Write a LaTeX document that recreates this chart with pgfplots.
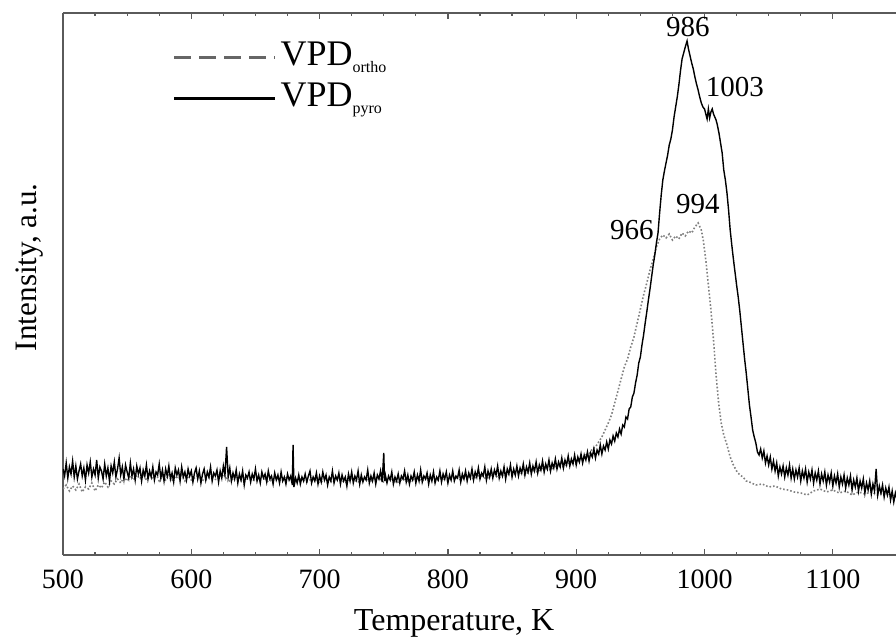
\documentclass[border=0pt]{standalone}
\usepackage{fontspec}
\setmainfont{Liberation Serif}
\usepackage{pgfplots}
\pgfplotsset{compat=1.18}
\usepackage{pgfplotstable}

\pgfplotstableread{
x y
500 66
502.5 70
505 64
507.5 69
510 65
512.5 71
515 63
517.5 68
520 66
522.5 72
525 64
527.5 70
530 67
532.5 73
535 68
537.5 74
540 71
542.5 76
545 72
547.5 78
550 74
552.5 79
555 75
557.5 80
560 76
562.5 81
565 75
567.5 80
570 76
572.5 81
575 74
577.5 79
580 75
582.5 80
585 74
587.5 79
590 76
592.5 80
595 74
597.5 79
600 75
605 79
610 74
615 78
620 75
625 80
630 74
635 78
640 73
645 77
650 74
655 79
660 73
665 77
670 74
675 78
680 72
685 76
690 73
695 77
700 72
705 76
710 73
715 77
720 72
725 76
730 73
735 77
740 74
745 78
750 73
755 77
760 72
765 76
770 73
775 77
780 74
785 78
790 73
795 77
800 74
805 78
810 75
815 79
820 76
825 80
830 76
835 81
840 77
845 82
850 79
855 83
860 80
865 85
870 83
875 87
880 85
885 89
890 88
895 92
900 91
902.5 95
905 96
907.5 100
910 101
912.5 106
915 108
917.5 113
920 118
922.5 125
925 132
927.5 140
930 152
932.5 164
935 176
937.5 188
940 196
942.5 208
945 218
947.5 232
950 246
952.5 260
955 272
957.5 285
960 296
962.5 308
965 316
967.5 320
970 317
972.5 321
975 315
977.5 319
980 316
982.5 322
985 319
987.5 324
990 322
992.5 328
995 332
997.5 325
999 315
1001 295
1003 270
1005 245
1007 215
1009 180
1011 152
1013 132
1015 120
1017.5 110
1020 98
1022.5 90
1025 84
1027.5 80
1030 78
1032.5 74
1035 73
1040 70
1045 71
1050 68
1055 69
1060 66
1065 65
1070 63
1075 62
1080 60
1085 64
1090 66
1095 63
1100 65
1105 62
1110 64
1115 60
1120 63
1125 61
1130 63
1135 60
1140 62
1145 59
1150 60
}\ortho

\definecolor{axgray}{HTML}{5A5A5A}
\definecolor{orthogray}{HTML}{808080}
\definecolor{leggray}{HTML}{666666}

\newcommand{\sub}[1]{\raisebox{-0.4ex}{\fontsize{8}{8}\selectfont #1}}

\begin{document}
\begin{tikzpicture}
\begin{axis}[
  at={(0,0)}, anchor=south west,
  scale only axis,
  width=417pt, height=271pt,
  xmin=500, xmax=1150,
  ymin=0, ymax=542,
  axis x line*=box,
  axis y line*=left,
  axis line style={axgray, line width=0.9pt},
  xtick={500,600,...,1100},
  minor x tick num=3,
  ytick=\empty,
  tick align=inside,
  major tick length=3pt,
  minor tick length=1.5pt,
  tick style={axgray, line width=0.6pt},
  /pgf/number format/assume math mode=true,
  /pgf/number format/1000 sep={},
  xticklabel style={font=\fontsize{14}{14}\selectfont, yshift=-4pt},
  xlabel={Temperature, K},
  ylabel={Intensity, a.u.},
  xlabel style={font=\fontsize{16}{16}\selectfont, at={(axis description cs:0.469,-0.1384)}, anchor=base},
  ylabel style={font=\fontsize{15.6}{15.6}\selectfont, at={(axis description cs:-0.0312,0.531)}, anchor=base},
  legend style={at={(axis description cs:0.131,0.948)}, anchor=north west, draw=none, fill=none,
    font=\fontsize{18}{18}\selectfont, row sep=4.5pt, inner sep=0pt,
    nodes={inner sep=0pt, text height=12pt, text depth=4pt}},
  legend cell align=left,
  legend image code/.code={\draw[#1] (0pt,0pt) -- (50.5pt,0pt); \path (52.5pt,0pt);},
]
\addplot[orthogray, densely dotted, line width=0.8pt, forget plot] table[x=x,y=y] {\ortho};
\addplot[black, line width=0.7pt, forget plot] coordinates {
(500,86)(501.25,79)(502.5,92)(503.75,77)(505,88)(506.25,81)(507.5,94)(508.75,78)
(510,89)(511.25,76)(512.5,84)(513.75,91)(515,79)(516.25,87)(517.5,75)(518.75,90)
(520,82)(521.25,93)(522.5,78)(523.75,86)(525,80)(526.25,95)(527.5,77)(528.75,88)
(530,84)(531.25,76)(532.5,91)(533.75,79)(535,87)(536.25,74)(537.5,89)(538.75,82)
(540,93)(541.25,78)(542.5,86)(543.75,97)(545,80)(546.25,88)(547.5,76)(548.75,90)
(550,83)(551.25,77)(552.5,92)(553.75,79)(555,86)(556.25,75)(557.5,89)(558.75,81)
(560,87)(561.25,74)(562.5,85)(563.75,79)(565,90)(566.25,76)(567.5,84)(568.75,78)
(570,88)(571.25,75)(572.5,83)(573.75,80)(575,91)(576.25,77)(577.5,85)(578.75,74)
(580,86)(581.25,79)(582.5,89)(583.75,76)(585,82)(586.25,73)(587.5,87)(588.75,80)
(590,85)(591.25,74)(592.5,88)(593.75,78)(595,83)(596.25,75)(597.5,86)(598.75,79)
(600,84)(601.25,73)(602.5,82)(603.75,87)(605,76)(606.25,84)(607.5,72)(608.75,81)
(610,86)(611.25,75)(612.5,83)(613.75,78)(615,88)(616.25,74)(617.5,82)(618.75,79)
(620,85)(621.25,73)(622.5,84)(623.75,77)(625,89)(626.25,80)(627.5,108)(628.75,78)
(630,87)(631.25,74)(632.5,82)(633.75,76)(635,85)(636.25,72)(637.5,81)(638.75,75)
(640,84)(641.25,70)(642.5,80)(643.75,77)(645,83)(646.25,73)(647.5,81)(648.75,76)
(650,86)(651.25,74)(652.5,80)(653.75,72)(655,83)(656.25,77)(657.5,81)(658.75,73)
(660,84)(661.25,76)(662.5,79)(663.75,71)(665,82)(666.25,75)(667.5,80)(668.75,72)
(670,83)(671.25,74)(672.5,78)(673.75,71)(675,81)(676.25,75)(677.5,79)(678.75,70)(679.3,110)(680,68)
(681.25,77)(682.5,72)(683.75,80)(685,71)(686.25,78)(687.5,74)(688.75,81)
(690,73)(691.25,79)(692.5,84)(693.75,72)(695,78)(696.25,74)(697.5,82)(698.75,71)
(700,79)(701.25,73)(702.5,83)(703.75,75)(705,80)(706.25,70)(707.5,78)(708.75,74)
(710,84)(711.25,72)(712.5,79)(713.75,75)(715,82)(716.25,71)(717.5,80)(718.75,74)
(720,78)(721.25,69)(722.5,81)(723.75,74)(725,83)(726.25,72)(727.5,79)(728.75,75)
(730,84)(731.25,71)(732.5,80)(733.75,73)(735,78)(736.25,75)(737.5,85)(738.75,72)
(740,79)(741.25,74)(742.5,82)(743.75,71)(745,80)(746.25,76)(747.5,84)(748.75,73)(750,102)(750.6,74)
(751.25,80)(752.5,72)(753.75,79)(755,75)(756.25,83)(757.5,71)(758.75,78)
(760,74)(761.25,81)(762.5,72)(763.75,79)(765,76)(766.25,84)(767.5,73)(768.75,80)
(770,71)(771.25,79)(772.5,75)(773.75,83)(775,72)(776.25,80)(777.5,74)(778.75,85)
(780,73)(781.25,79)(782.5,76)(783.75,82)(785,71)(786.25,80)(787.5,74)(788.75,83)
(790,72)(791.25,78)(792.5,75)(793.75,84)(795,73)(796.25,81)(797.5,76)(798.75,83)
(800,72)(801.25,80)(802.5,75)(803.75,84)(805,74)(806.25,79)(807.5,77)(808.75,85)
(810,73)(811.25,81)(812.5,76)(813.75,84)(815,74)(816.25,82)(817.5,77)(818.75,86)
(820,75)(821.25,83)(822.5,78)(823.75,87)(825,76)(826.25,82)(827.5,79)(828.75,88)
(830,75)(831.25,84)(832.5,78)(833.75,86)(835,77)(836.25,85)(837.5,80)(838.75,89)
(840,77)(841.25,84)(842.5,79)(843.75,88)(845,76)(846.25,86)(847.5,81)(848.75,90)
(850,78)(851.25,86)(852.5,80)(853.75,89)(855,79)(856.25,87)(857.5,82)(858.75,91)
(860,80)(861.25,88)(862.5,83)(863.75,92)(865,81)(866.25,89)(867.5,84)(868.75,93)
(870,82)(871.25,90)(872.5,85)(873.75,94)(875,83)(876.25,91)(877.5,86)(878.75,95)
(880,84)(881.25,92)(882.5,87)(883.75,96)(885,86)(886.25,93)(887.5,88)(888.75,97)
(890,87)(891.25,95)(892.5,90)(893.75,99)(895,89)(896.25,96)(897.5,91)(898.75,100)
(900,90)(901.25,98)(902.5,93)(903.75,101)(905,92)(906.25,100)(907.5,95)(908.75,103)
(910,94)(911.25,102)(912.5,98)(913.75,106)(915,97)(916.25,105)(917.5,101)(918.75,110)
(920,101)(921.25,109)(922.5,105)(923.75,113)(925,106)(926.25,115)(927.5,111)(928.75,119)
(930,114)(931.25,122)(932.5,118)(933.75,126)(935,121)(936.25,130)(937.5,128)(938.75,138)
(940,136)(941.25,146)(942.5,148)(943.75,158)(945,162)(946.25,172)(947.5,180)(948.75,192)
(950,198)(951.25,210)(952.5,220)(953.75,232)(955,243)(956.25,255)(957.5,266)(958.75,278)
(960,290)(961.25,300)(962.5,312)(963.75,322)(965,342)(966.25,360)(967.5,375)(968.75,384)
(970,392)(971.25,400)(972.5,410)(973.75,416)(975,425)(976.25,438)(977.5,448)(978.75,458)
(980,470)(981.25,484)(982.5,496)(983.75,502)(985,508)(986.4,514)(987.5,506)(988.75,499)
(990,492)(991.25,486)(992.5,478)(993.75,471)(995,465)(996.25,458)(997.5,452)(998.75,448)
(1000,446)(1001,441)(1002,436)(1003,446)(1004,437)(1005,443)(1006,446)(1007,441)(1008,438)(1009,435)
(1010,430)(1011.25,422)(1012.5,412)(1013.75,402)(1015,385)(1016.25,375)(1017.5,362)(1018.75,345)
(1020,325)(1021.25,310)(1022.5,296)(1023.75,283)(1025,270)(1026.25,258)(1027.5,244)(1028.75,228)
(1030,212)(1031.25,196)(1032.5,182)(1033.75,166)(1035,150)(1036.25,138)(1037.5,125)(1038.75,118)
(1040,112)(1041.25,103)(1042.5,100)(1043.75,106)(1045,97)(1046.25,104)(1047.5,92)(1048.75,99)
(1050,90)(1051.25,98)(1052.5,86)(1053.75,94)(1055,84)(1056.25,92)(1057.5,79)(1058.75,88)
(1060,81)(1061.25,89)(1062.5,78)(1063.75,87)(1065,80)(1066.25,90)(1067.5,77)(1068.75,86)
(1070,76)(1071.25,85)(1072.5,78)(1073.75,87)(1075,74)(1076.25,84)(1077.5,77)(1078.75,86)
(1080,73)(1081.25,83)(1082.5,76)(1083.75,85)(1085,72)(1086.25,82)(1087.5,75)(1088.75,84)
(1090,71)(1091.25,81)(1092.5,74)(1093.75,83)(1095,70)(1096.25,80)(1097.5,73)(1098.75,82)
(1100,69)(1101.25,79)(1102.5,72)(1103.75,81)(1105,68)(1106.25,78)(1107.5,71)(1108.75,80)
(1110,67)(1111.25,77)(1112.5,70)(1113.75,79)(1115,65)(1116.25,75)(1117.5,68)(1118.75,77)
(1120,64)(1121.25,74)(1122.5,67)(1123.75,76)(1125,62)(1126.25,72)(1127.5,65)(1128.75,74)
(1130,61)(1131.25,71)(1132.5,64)(1133.75,86)(1135,60)(1136.25,69)(1137.5,62)(1138.75,70)
(1140,58)(1141.25,67)(1142.5,60)(1143.75,68)(1145,55)(1146.25,64)(1147.5,53)(1148.75,62)(1150,56)
};
\addlegendimage{leggray, dash pattern=on 8.5pt off 4pt, line width=1.5pt}
\addlegendentry{VPD\sub{ortho}}
\addlegendimage{black, line width=1.5pt}
\addlegendentry{VPD\sub{pyro}}
\node[font=\fontsize{14.5}{14.5}\selectfont] at (axis cs:987,528) {986};
\node[font=\fontsize{14.5}{14.5}\selectfont] at (axis cs:1023.6,468) {1003};
\node[font=\fontsize{14.5}{14.5}\selectfont] at (axis cs:994.8,351) {994};
\node[font=\fontsize{14.5}{14.5}\selectfont] at (axis cs:943.4,325) {966};
\end{axis}
\pgfresetboundingbox
\useasboundingbox (-31.5pt,-41pt) rectangle (416.5pt,277.5pt);
\end{tikzpicture}
\end{document}
